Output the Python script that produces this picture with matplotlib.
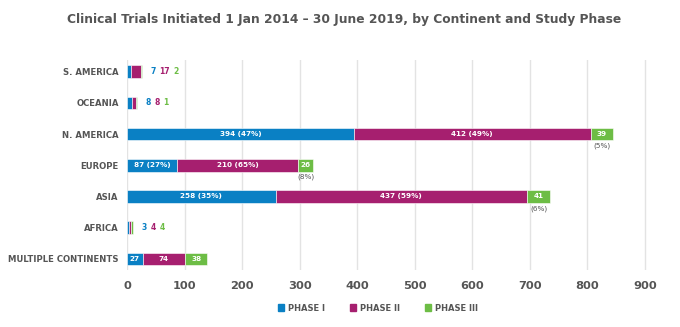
import matplotlib.pyplot as plt
from matplotlib.patches import Patch

continents = ["S. AMERICA", "OCEANIA", "N. AMERICA", "EUROPE", "ASIA", "AFRICA", "MULTIPLE CONTINENTS"]
phase1 = [7, 8, 394, 87, 258, 3, 27]
phase2 = [17, 8, 412, 210, 437, 4, 74]
phase3 = [2, 1, 39, 26, 41, 4, 38]
phases = ["PHASE I", "PHASE II", "PHASE III"]
colors = ["#0a80c4", "#a61f6f", "#6dbd45"]

# how each row is labelled
outside_rows = ["S. AMERICA", "OCEANIA", "AFRICA"]
pct_rows = ["N. AMERICA", "EUROPE", "ASIA"]

plt.rcParams['font.family'] = ['DejaVu Sans']
fig = plt.figure(figsize=(6.8, 3.27), dpi=100)
ax = fig.add_axes([0.187, 0.174, 0.795, 0.643])

y = list(range(len(continents)))
h = 0.4
series = [phase1, phase2, phase3]
lefts = [0] * len(continents)
for vals, col, name in zip(series, colors, phases):
    ax.barh(y, vals, left=lefts, height=h, color=col, edgecolor="white", linewidth=0.4, label=name, zorder=3)
    lefts = [l + v for l, v in zip(lefts, vals)]

for i, cont in enumerate(continents):
    vals = [phase1[i], phase2[i], phase3[i]]
    total = sum(vals)
    if cont in outside_rows:
        txt = [str(v) for v in vals]
        off = 6
        for t, col in zip(txt, colors):
            ax.annotate(t, (total, i), xytext=(off, 0), textcoords="offset points",
                        ha="left", va="center", fontsize=5.5, fontweight="bold", color=col)
            off += 3.8 * len(t) + 2.5
        continue
    start = 0
    for k, v in enumerate(vals):
        mid = start + v / 2
        if cont in pct_rows:
            pct = round(v / total * 100)
            if k < 2:
                label = f"{v} ({pct}%)"
            else:
                label = str(v)
                ax.text(mid, i + 0.38, f"({pct}%)", ha="center", va="center",
                        fontsize=5.2, color="#555555")
        else:
            label = str(v)
        ax.text(mid, i, label, ha="center", va="center", fontsize=5.2,
                fontweight="bold", color="white", zorder=4)
        start += v

ax.set_xlim(0, 940)
ax.set_ylim(6.36, -0.38)
ax.set_xticks(range(0, 1000, 100))
ax.set_yticks(y)
ax.set_yticklabels(continents, fontsize=6.1, fontweight="bold", color="#555555")
ax.tick_params(axis="x", labelsize=8.2, labelcolor="#555555", length=0, pad=8)
ax.tick_params(axis="y", length=0, pad=6)
for lbl in ax.get_xticklabels():
    lbl.set_fontweight("bold")
ax.grid(axis="x", color="#e3e3e3", linewidth=1, zorder=0)
for s in ax.spines.values():
    s.set_visible(False)

fig.suptitle("Clinical Trials Initiated 1 Jan 2014 \u2013 30 June 2019, by Continent and Study Phase",
             x=0.506, y=0.96, fontsize=8.8, fontweight="bold", color="#555555")

handles = [Patch(color=c, label=p) for c, p in zip(colors, phases)]
fig.legend(handles=handles, loc="center", bbox_to_anchor=(0.556, 0.058), ncol=3,
           frameon=False, handlelength=0.8, handleheight=0.8,
           columnspacing=2.9, handletextpad=0.5, prop={"weight": "bold", "size": 6})
for t in fig.legends[0].get_texts():
    t.set_color("#555555")

fig.savefig("out.png", dpi=100)
